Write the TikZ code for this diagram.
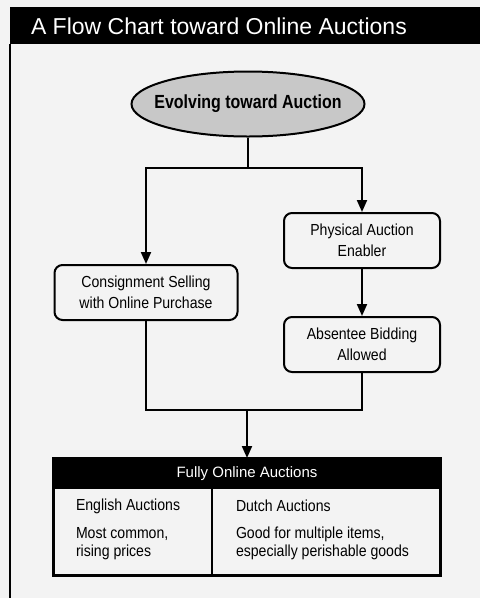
\documentclass[tikz,border=0pt]{standalone}
\usepackage{fontspec}
\setmainfont{Liberation Sans}
\newfontfamily\narrowfont[FakeStretch=0.88]{Liberation Sans}
\newfontfamily\ovalfont[FakeStretch=0.84]{Liberation Sans Bold}
\usetikzlibrary{arrows.meta,shapes.geometric}
\definecolor{paper}{HTML}{F3F3F3}
\definecolor{ovalgray}{HTML}{C8C8C8}
\begin{document}
\begin{tikzpicture}[x=1pt,y=-1pt,
  line width=2pt,
  arr/.style={-{Triangle[length=12pt,width=10pt]}},
  stepbox/.style={draw, rounded corners=8pt, fill=paper, minimum height=55pt,
    inner sep=0pt, align=center, font=\narrowfont\fontsize{16}{20.5}\selectfont},
  cell/.style={anchor=west, inner sep=0pt, align=left,
    font=\narrowfont\fontsize{16}{17.5}\selectfont}]
  \useasboundingbox (0,0) rectangle (480,598);
  \fill[paper] (0,0) rectangle (480,598);

  % title bar and left frame rule
  \fill[black] (10,7) rectangle (480,44);
  \draw[line width=1.6pt] (10,44) -- (10,598);
  \node[anchor=west, text=white, inner sep=0pt,
        font=\fontsize{23}{26}\selectfont] (title) at (30,26)
        {A Flow Chart toward Online Auctions};

  % start oval (label boxed to zero width so the oval keeps its set size)
  \node[ellipse, draw, fill=ovalgray, minimum width=233pt, minimum height=65pt,
        inner sep=0pt, font=\ovalfont\fontsize{19}{22}\selectfont]
        (ev) at (248,104) {\makebox[0pt]{Evolving toward Auction}};

  % process boxes
  \node[stepbox, minimum width=183pt] (cons) at (146,292.5)
        {Consignment Selling\\with Online Purchase};
  \node[stepbox, minimum width=156pt] (phys) at (362,240.5)
        {Physical Auction\\Enabler};
  \node[stepbox, minimum width=156pt] (abs) at (362,344.5)
        {Absentee Bidding\\Allowed};

  % result table
  \node[draw, minimum width=386pt, minimum height=116pt, inner sep=0pt]
        (tbl) at (247,517) {};
  \fill[black] (tbl.north west) rectangle (440,489);
  \draw (tbl.north west) rectangle (tbl.south east);
  \coordinate (divtop) at (212,489);
  \draw (divtop) -- (divtop |- tbl.south);
  \node[text=white, inner sep=0pt, font=\fontsize{15}{17}\selectfont]
        (head) at (247,474) {Fully Online Auctions};
  \node[cell] (eng) at (75,506) {English Auctions};
  \node[cell] (engtxt) at (75,543.5) {Most common,\\rising prices};
  \node[cell] (dut) at (235,506) {Dutch Auctions};
  \node[cell] (duttxt) at (235,543.5) {Good for multiple items,\\especially perishable goods};

  % connectors
  \coordinate (split) at (248,168);
  \coordinate (merge) at (247,410);
  \draw (ev.south) -- (split);
  \draw[arr] (split) -| (cons.north);
  \draw[arr] (split) -| (phys.north);
  \draw[arr] (phys.south) -- (abs.north);
  \draw (cons.south) |- (merge);
  \draw (abs.south) |- (merge);
  \draw[arr] (merge) -- (tbl.north);
\end{tikzpicture}
\end{document}
